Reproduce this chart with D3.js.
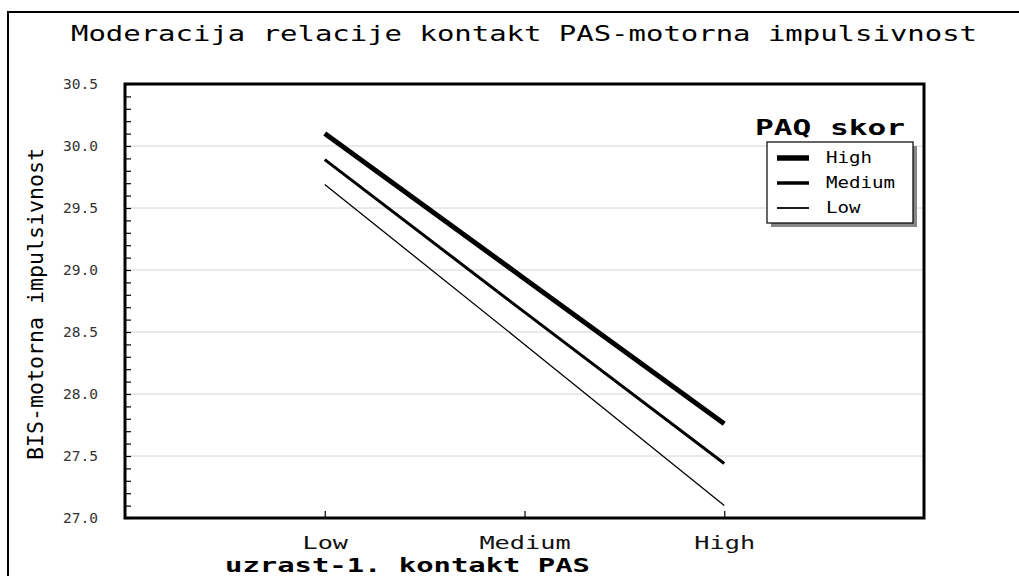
<!DOCTYPE html>
<html><head><meta charset="utf-8">
<script src="https://cdn.jsdelivr.net/npm/d3@7"></script>
<style>
html,body{margin:0;padding:0;background:#fff;}
svg{display:block;}
text{font-family:"DejaVu Sans Mono",monospace;}
</style></head>
<body>
<svg id="c" width="1019" height="576"></svg>
<script>
const categories = ["Low", "Medium", "High"];
const seriesNames = ["High", "Medium", "Low"];
const highValues = [30.10, 28.93, 27.76];
const mediumValues = [29.89, 28.66, 27.44];
const lowValues = [29.69, 28.40, 27.10];
const yTicks = [27.0, 27.5, 28.0, 28.5, 29.0, 29.5, 30.0, 30.5];
const seriesWidths = [5, 3, 1.3];

const svg = d3.select("#c");
const L = 125, R = 924, T = 84, B = 518;
const SG = "spacingAndGlyphs";

// outer frame
svg.append("rect").attr("x", 8).attr("y", 12).attr("width", 1200).attr("height", 800)
  .attr("fill", "none").attr("stroke", "#000").attr("stroke-width", 2);

const x = d3.scalePoint().domain(categories).range([L, R]).padding(1);
const y = d3.scaleLinear().domain([27.0, 30.5]).range([B, T]);

// grid
svg.append("g").selectAll("line").data(yTicks.slice(1, -1)).join("line")
  .attr("x1", L).attr("x2", R).attr("y1", d => y(d)).attr("y2", d => y(d))
  .attr("stroke", "#d4d4d4").attr("stroke-width", 1);

// y axis with minor ticks
const minor = d3.range(27.0, 30.5001, 0.1);
const yMinor = d3.axisLeft(y).tickValues(minor).tickSize(-6).tickFormat("");
const gm = svg.append("g").attr("transform", `translate(${L},0)`).call(yMinor);
gm.select(".domain").remove();
gm.selectAll("line").attr("stroke", "#000").attr("stroke-width", 1.2);

const yAxis = d3.axisLeft(y).tickValues(yTicks).tickSize(0).tickPadding(27).tickFormat(d3.format(".1f"));
const gy = svg.append("g").attr("transform", `translate(${L},0)`).call(yAxis);
gy.select(".domain").remove();
gy.selectAll("text").attr("font-size", 14).attr("fill", "#333")
  .attr("textLength", 35).attr("lengthAdjust", SG);

// x axis
const xAxis = d3.axisBottom(x).tickSize(-7).tickPadding(19);
const gx = svg.append("g").attr("transform", `translate(0,${B})`).call(xAxis);
gx.select(".domain").remove();
gx.selectAll("line").attr("stroke", "#000").attr("stroke-width", 1.2);
gx.selectAll("text").attr("font-size", 17).attr("fill", "#111")
  .each(function(d){ d3.select(this).attr("textLength", d.length * 15.2).attr("lengthAdjust", SG); });

// frame
svg.append("rect").attr("x", L).attr("y", T).attr("width", R - L).attr("height", B - T)
  .attr("fill", "none").attr("stroke", "#000").attr("stroke-width", 3);

// lines
const seriesData = [highValues, mediumValues, lowValues];
const line = d3.line().x((d, i) => x(categories[i])).y(d => y(d));
svg.append("g").selectAll("path").data(seriesData).join("path")
  .attr("d", d => line(d)).attr("fill", "none").attr("stroke", "#000")
  .attr("stroke-width", (d, i) => seriesWidths[i]);

// title
svg.append("text").attr("x", 524).attr("y", 41).attr("text-anchor", "middle")
  .attr("font-size", 22).attr("textLength", 906).attr("lengthAdjust", SG)
  .attr("fill", "#000").text("Moderacija relacije kontakt PAS-motorna impulsivnost");

// y title
svg.append("text").attr("transform", "translate(43,304) rotate(-90)").attr("text-anchor", "middle")
  .attr("font-size", 21).attr("textLength", 312).attr("lengthAdjust", SG)
  .text("BIS-motorna impulsivnost");

// x title
svg.append("text").attr("x", 225).attr("y", 572)
  .attr("font-size", 20).attr("font-weight", "bold").attr("textLength", 365).attr("lengthAdjust", SG)
  .text("uzrast-1. kontakt PAS");

// legend
const lg = svg.append("g");
lg.append("text").attr("x", 755).attr("y", 135).attr("font-size", 21).attr("font-weight", "bold")
  .attr("textLength", 150).attr("lengthAdjust", SG).text("PAQ skor");
lg.append("rect").attr("x", 771).attr("y", 146).attr("width", 146).attr("height", 81).attr("fill", "#888");
lg.append("rect").attr("x", 767).attr("y", 142).attr("width", 146).attr("height", 81)
  .attr("fill", "#fff").attr("stroke", "#000").attr("stroke-width", 1.2);
const ly = d3.scalePoint().domain(seriesNames).range([158, 208]);
seriesNames.forEach((n, i) => {
  lg.append("line").attr("x1", 777).attr("x2", 809).attr("y1", ly(n)).attr("y2", ly(n))
    .attr("stroke", "#000").attr("stroke-width", seriesWidths[i] + 0.5);
  lg.append("text").attr("x", 826).attr("y", ly(n) + 5).attr("font-size", 15)
    .attr("textLength", n.length * 11.5).attr("lengthAdjust", SG).text(n);
});
</script>
</body></html>
